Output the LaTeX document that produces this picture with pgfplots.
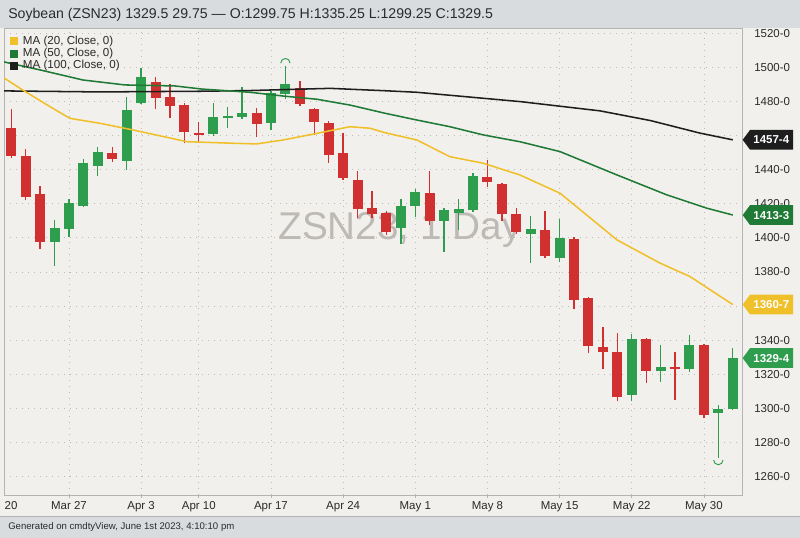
\documentclass[border=0pt]{standalone}
\usepackage{fontspec}
\setmainfont{Liberation Sans}
\usepackage{pgfplots}
\pgfplotsset{compat=1.18}
\usepackage{pgfplotstable}

\definecolor{bgbeige}{HTML}{F2F0EC}
\definecolor{bggray}{HTML}{D9DCDF}
\definecolor{cred}{HTML}{D13030}
\definecolor{cgreen}{HTML}{2F9D4E}
\definecolor{ma20}{HTML}{EFC02A}
\definecolor{ma50}{HTML}{1E7A34}
\definecolor{ma100}{HTML}{1E1E1E}
\definecolor{gridc}{HTML}{BDBAB5}
\definecolor{framec}{HTML}{B4B4B4}
\definecolor{wm}{HTML}{BDB9B4}
\definecolor{txt}{HTML}{2A2A2A}

\pgfdeclareplotmark{hiarc}{\pgfpathmoveto{\pgfqpoint{-3.5pt}{1.9pt}}\pgfpatharc{180}{0}{3.5pt}\pgfusepathqstroke}
\pgfdeclareplotmark{loarc}{\pgfpathmoveto{\pgfqpoint{-3.5pt}{-1.3pt}}\pgfpatharc{180}{360}{3.5pt}\pgfusepathqstroke}

% green candles: index o h l c
\pgfplotstableread{
x o h l c
-1 1397.8 1410.5 1383.5 1406.0
0 1405.4 1422.8 1400.7 1420.3
1 1418.7 1446.1 1418.0 1444.1
2 1442.2 1453.1 1436.5 1450.4
4 1445.1 1482.5 1439.8 1475.0
5 1479.3 1499.5 1478.5 1494.5
10 1460.9 1479.3 1459.8 1470.7
11 1470.3 1477.0 1464.3 1471.7
12 1471.1 1488.7 1469.6 1473.1
14 1467.2 1486.3 1463.3 1485.2
15 1484.2 1501.0 1481.3 1490.3
23 1406.0 1422.6 1396.2 1418.7
24 1418.7 1428.5 1412.4 1427.1
26 1410.1 1417.7 1391.9 1416.4
27 1414.6 1422.6 1404.6 1417.1
28 1416.4 1437.9 1415.4 1436.3
32 1402.5 1412.8 1385.1 1405.0
34 1388.2 1410.9 1386.0 1400.1
39 1307.9 1343.6 1304.5 1340.9
41 1321.9 1337.2 1315.7 1324.1
43 1323.1 1343.0 1321.5 1337.0
45 1297.5 1302.0 1270.7 1299.75
46 1299.75 1335.25 1299.25 1329.5
}\up

% red candles
\pgfplotstableread{
x o h l c
-4 1464.3 1475.6 1446.7 1448.0
-3 1448.0 1452.0 1422.2 1424.2
-2 1425.6 1430.3 1393.3 1397.8
3 1449.6 1453.1 1444.5 1446.3
6 1491.3 1494.2 1475.6 1482.2
7 1482.8 1490.3 1470.5 1477.4
8 1477.8 1479.0 1455.5 1462.1
9 1461.7 1468.2 1455.8 1460.5
13 1473.4 1476.0 1459.2 1466.6
16 1487.7 1492.2 1477.4 1478.4
17 1475.8 1476.0 1460.4 1468.0
18 1467.2 1468.6 1444.1 1448.4
19 1449.6 1461.7 1434.0 1435.3
20 1434.0 1439.2 1411.5 1417.1
21 1417.4 1427.7 1411.5 1414.0
22 1414.4 1416.0 1401.7 1403.3
25 1426.5 1439.4 1407.6 1410.1
29 1435.9 1445.7 1430.0 1433.0
30 1431.6 1432.0 1410.1 1413.8
31 1414.0 1417.4 1402.3 1403.3
33 1404.6 1416.0 1388.4 1389.4
35 1399.4 1400.7 1358.1 1363.6
36 1364.6 1365.2 1332.3 1336.6
37 1336.2 1347.6 1322.9 1332.9
38 1332.9 1344.4 1304.3 1306.9
40 1340.7 1341.0 1315.1 1321.9
42 1324.1 1332.9 1304.9 1323.3
44 1337.2 1337.5 1294.2 1296.1
}\down

\begin{document}
\begin{tikzpicture}
\useasboundingbox (0,0) rectangle (600pt,403.5pt);
\fill[bgbeige] (0,0) rectangle (600pt,403.5pt);
\fill[bggray] (0,382.5pt) rectangle (600pt,403.5pt);
\fill[bggray] (0,0) rectangle (600pt,16.5pt);
\draw[framec, line width=0.6pt] (0,16.5pt) -- (600pt,16.5pt);
\node[text=wm, font=\fontsize{29}{30}\selectfont, anchor=base] at (300pt,223.5pt) {ZSN23, 1 Day};

\begin{axis}[
  at={(3pt,32.25pt)}, anchor=south west,
  width=553.5pt, height=350.25pt, scale only axis,
  xmin=-4.5, xmax=46.64, ymin=1249.2, ymax=1523.1,
  axis line style={draw=framec, line width=0.6pt},
  xtick={0,5,9,14,19,24,29,34,39,44},
  xticklabels={Mar 27,Apr 3,Apr 10,Apr 17,Apr 24,May 1,May 8,May 15,May 22,May 30},
  ytick={1260,1280,1300,1320,1340,1360,1380,1400,1420,1440,1460,1480,1500,1520},
  yticklabels={1260-0,1280-0,1300-0,1320-0,1340-0,,1380-0,1400-0,1420-0,1440-0,,1480-0,1500-0,1520-0},
  xtick pos=left, ytick pos=right, yticklabel pos=right,
  tick align=outside, major tick length=2.25pt,
  xtick style={draw=framec, line width=0.6pt},
  ytick style={draw=none},
  grid=major,
  major grid style={draw=gridc, line width=0.6pt, dash pattern=on 0.75pt off 3.75pt},
  tick label style={font=\fontsize{8.6}{10}\selectfont, text=txt},
  xticklabel style={inner sep=0pt, anchor=north, yshift=-2.5pt},
  yticklabel style={inner sep=0pt, anchor=west, xshift=6.75pt},
]
% wicks
\addplot[draw=none, mark=none, forget plot,
  error bars/.cd, y dir=plus, y explicit, error mark=none,
  error bar style={draw=cgreen, line width=1pt}]
  table[x=x, y=l, y error expr=\thisrow{h}-\thisrow{l}] {\up};
\addplot[draw=none, mark=none, forget plot,
  error bars/.cd, y dir=plus, y explicit, error mark=none,
  error bar style={draw=cred, line width=1pt}]
  table[x=x, y=l, y error expr=\thisrow{h}-\thisrow{l}] {\down};
% bodies
\addplot[draw=none, mark=none, forget plot,
  error bars/.cd, y dir=plus, y explicit, error mark=none,
  error bar style={draw=cgreen, line width=7.5pt}]
  table[x=x, y=o, y error expr=\thisrow{c}-\thisrow{o}] {\up};
\addplot[draw=none, mark=none, forget plot,
  error bars/.cd, y dir=plus, y explicit, error mark=none,
  error bar style={draw=cred, line width=7.5pt}]
  table[x=x, y=c, y error expr=\thisrow{o}-\thisrow{c}] {\down};

% moving averages
\addplot[ma100, line width=1.15pt, mark=none] coordinates {
(-4.5,1486.2) (2.15,1485.6) (9.1,1486.0) (12.5,1486.4) (18.1,1487.7) (21.9,1486.3)
(24.1,1485.4) (31.3,1479.9) (36.8,1474.5) (40.3,1468.8) (43.7,1461.5) (46,1457.5)};
\addplot[ma50, line width=1.15pt, mark=none] coordinates {
(-4.5,1503.2) (-2.0,1498.5) (0.97,1492.6) (3.88,1489.7) (7.35,1489.1) (9.2,1487.3)
(12.54,1485.4) (14.83,1483.2) (17.19,1481.3) (19.47,1477.9) (21.9,1473.1) (24.12,1469.1)
(26.4,1465.2) (28.7,1460.4) (31.25,1456.4) (34.03,1450.6) (37.98,1436.9) (41.44,1425.2)
(44.21,1417.4) (46,1413.4)};
\addplot[ma20, line width=1.15pt, mark=none] coordinates {
(-4.5,1493.8) (-3.2,1486.7) (-1.32,1477.0) (0.07,1470.1) (2.15,1467.2) (4.44,1463.3)
(8.18,1456.4) (11.37,1455.5) (13.0,1455.1) (14.83,1457.4) (17.19,1461.3) (19.47,1465.2)
(20.86,1464.3) (21.9,1461.7) (24.12,1457.4) (26.4,1447.6) (28.7,1443.8) (31.25,1436.9)
(34.03,1426.2) (37.98,1398.8) (40.96,1385.2) (43.04,1377.3) (46,1360.9)};

% high / low markers
\addplot[only marks, mark=hiarc, mark options={draw=cgreen, line width=0.7pt}] coordinates {(15,1501.0)};
\addplot[only marks, mark=loarc, mark options={draw=cgreen, line width=0.7pt}] coordinates {(45,1270.7)};

\coordinate (t100) at (axis cs:46.64,1457.5);
\coordinate (t50) at (axis cs:46.64,1413.375);
\coordinate (t20) at (axis cs:46.64,1360.875);
\coordinate (tpx) at (axis cs:46.64,1329.5);
\end{axis}

% price tags
\foreach \c/\col/\lab in {t100/ma100/1457-4, t50/ma50/1413-3, t20/ma20/1360-7, tpx/cgreen/1329-4}{
  \fill[\col] ([xshift=0.5pt]\c) -- ++(5.5pt,7.4pt) -- ++(32.25pt,0) -- ++(0,-14.8pt) -- ++(-32.25pt,0) -- cycle;
  \node[text=white, font=\bfseries\fontsize{8.6}{10}\selectfont, inner sep=0pt] at ([xshift=22pt]\c) {\lab};
}

% partial first date label
\node[text=txt, font=\fontsize{8.6}{10}\selectfont, anchor=north west, inner sep=0pt] at (3.3pt,27.5pt) {20};

% legend
\foreach \yy/\col/\n in {372.5/ma20/20, 363.2/ma50/50, 354/ma100/100}{
  \fill[\col] (7.5pt,\yy pt-3pt) rectangle (13.7pt,\yy pt+3pt);
  \node[text=txt, font=\fontsize{8.7}{10}\selectfont, anchor=west, inner sep=0pt] at (17pt,\yy pt) {MA (\n, Close, 0)};
}

% title
\node[text=txt, font=\fontsize{10.6}{12}\selectfont, anchor=base west, inner sep=0pt] at (6pt,389.8pt)
  {Soybean (ZSN23) 1329.5 29.75 — O:1299.75 H:1335.25 L:1299.25 C:1329.5};
% footer
\node[text=txt, font=\fontsize{7.2}{8}\selectfont, anchor=west, inner sep=0pt] at (6pt,8.25pt)
  {Generated on cmdtyView, June 1st 2023, 4:10:10 pm};
\end{tikzpicture}
\end{document}
